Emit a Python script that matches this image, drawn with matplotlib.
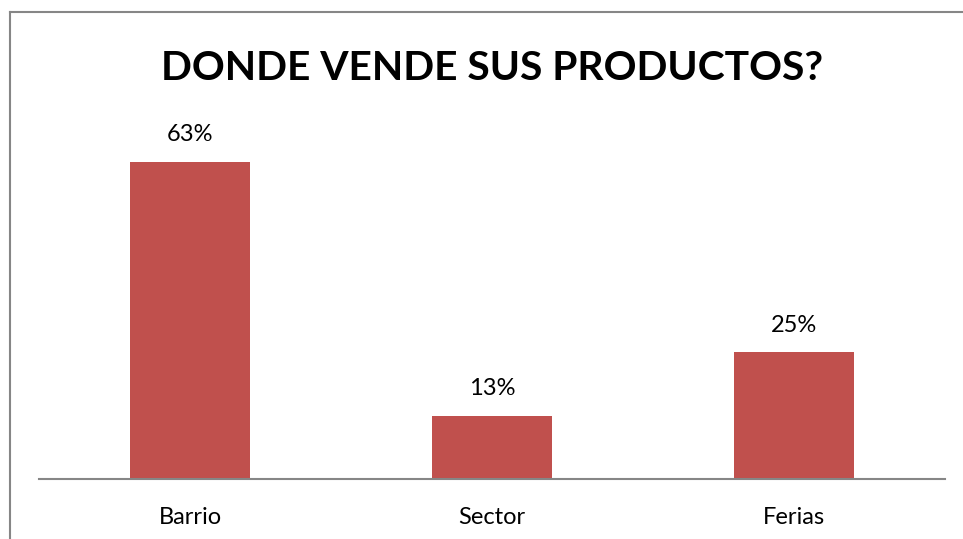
import matplotlib
matplotlib.use("Agg")
import matplotlib.pyplot as plt
from matplotlib.lines import Line2D

categories = ["Barrio", "Sector", "Ferias"]
values = [62.5, 12.5, 25.0]
labels = ["63%", "13%", "25%"]
title = "DONDE VENDE SUS PRODUCTOS?"

W, H = 963, 539
fig = plt.figure(figsize=(W / 100, H / 100), dpi=100)
fig.patch.set_facecolor("white")

# chart border (top and left visible)
fig.add_artist(Line2D([10 / W, 10 / W], [0, 1 - 12 / H], color="#868686", lw=1.5, transform=fig.transFigure))
fig.add_artist(Line2D([10 / W, 1], [1 - 12 / H, 1 - 12 / H], color="#868686", lw=1.5, transform=fig.transFigure))

left, right = 39 / W, 945 / W
bottom = (H - 479) / H
top = (H - 124) / H
ax = fig.add_axes([left, bottom, right - left, top - bottom])
x = range(len(categories))
ax.bar(x, values, width=0.4, color="#C0504D", zorder=2)
ax.set_xlim(-0.5, 2.5)
ax.set_ylim(0, 70)
for s in ["top", "right", "left"]:
    ax.spines[s].set_visible(False)
ax.spines["bottom"].set_color("#868686")
ax.spines["bottom"].set_linewidth(1.5)
ax.set_yticks([])
ax.set_xticks(list(x))
ax.set_xticklabels(categories, fontsize=17, family="Lato")
ax.tick_params(axis="x", length=0, pad=20)
for xi, v, lab in zip(x, values, labels):
    ax.annotate(lab, (xi, v), xytext=(0, 12), textcoords="offset points",
                ha="center", va="bottom", fontsize=17, family="Lato")

fig.text(492 / W, 1 - 68 / H, title, ha="center", va="center", fontsize=29.3,
         fontweight="bold", family="Lato")

fig.savefig("out.png", dpi=100)
